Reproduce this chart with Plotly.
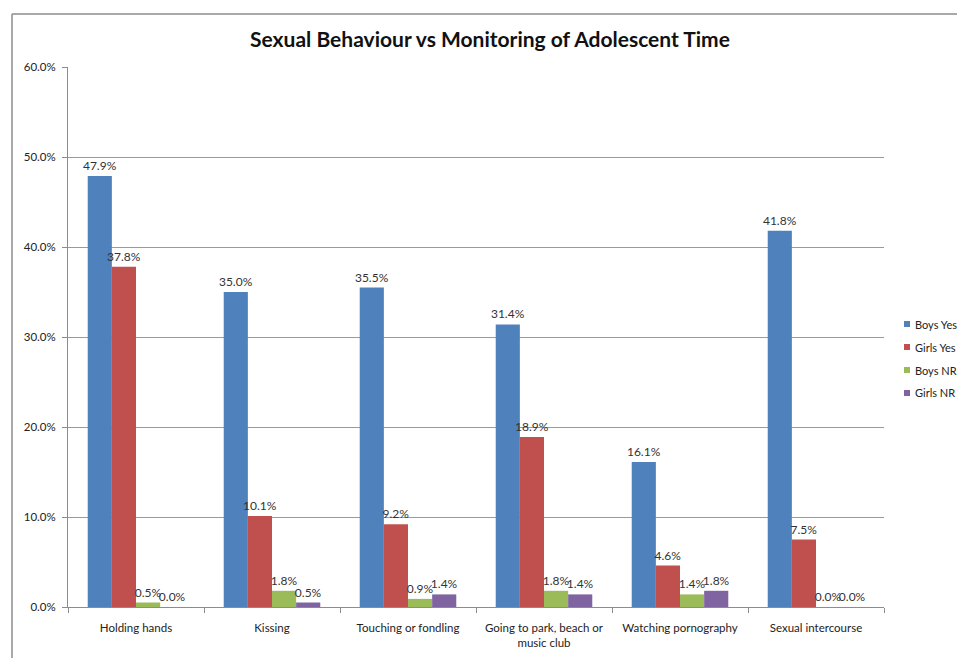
import plotly.graph_objects as go

categories = ["Holding hands", "Kissing", "Touching or fondling",
              "Going to park, beach or<br>music club", "Watching pornography",
              "Sexual intercourse"]
boys_yes = [47.9, 35.0, 35.5, 31.4, 16.1, 41.8]
girls_yes = [37.8, 10.1, 9.2, 18.9, 4.6, 7.5]
boys_nr = [0.5, 1.8, 0.9, 1.8, 1.4, 0.0]
girls_nr = [0.0, 0.5, 1.4, 1.4, 1.8, 0.0]

series = [
    ("Boys Yes", boys_yes, "#4F81BD"),
    ("Girls Yes", girls_yes, "#C0504D"),
    ("Boys NR", boys_nr, "#9BBB59"),
    ("Girls NR", girls_nr, "#8064A2"),
]

FONT = "Lato, 'Open Sans', sans-serif"

fig = go.Figure()
for name, vals, color in series:
    fig.add_trace(go.Bar(
        name=name, x=categories, y=[v / 100 for v in vals],
        marker=dict(color=color, line=dict(width=0)),
        text=[f"{v:.1f}%" for v in vals], textposition="outside",
        textfont=dict(size=12, color="#333333", family=FONT),
        constraintext="none", cliponaxis=False, showlegend=False,
    ))

W, H = 957, 658
L, R, T, B = 68, 884, 67, 607

def px_x(x):
    return (x - L) / (R - L)

def px_y(y):
    return (B - y) / (B - T)

# Compact legend on the right: a small colour square and a label per series
shapes = []
annotations = []
for i, (name, _, color) in enumerate(series):
    yc = 324 + i * 23
    shapes.append(dict(type="rect", xref="paper", yref="paper",
                       x0=px_x(904), x1=px_x(910), y0=px_y(yc + 3), y1=px_y(yc - 3),
                       fillcolor=color, line=dict(width=0)))
    annotations.append(dict(text=name, xref="paper", yref="paper",
                            x=px_x(913), y=px_y(yc), xanchor="left", yanchor="middle",
                            showarrow=False,
                            font=dict(size=11, color="#222222", family=FONT)))

# Chart frame lines (top and left edges)
shapes += [
    dict(type="line", xref="paper", yref="paper",
         x0=px_x(12), x1=px_x(12), y0=px_y(14), y1=px_y(670),
         line=dict(color="#8c8c8c", width=1.5)),
    dict(type="line", xref="paper", yref="paper",
         x0=px_x(12), x1=px_x(970), y0=px_y(14), y1=px_y(14),
         line=dict(color="#8c8c8c", width=1.5)),
]

fig.update_layout(
    width=W, height=H,
    margin=dict(l=L, r=W - R, t=T, b=H - B, autoexpand=False),
    paper_bgcolor="white", plot_bgcolor="white",
    barmode="group", bargap=0.29, bargroupgap=0,
    font=dict(family=FONT, size=11, color="#333333"),
    title=dict(text="<b>Sexual Behaviour vs Monitoring of Adolescent Time</b>",
               x=px_x(490), xref="paper", xanchor="center",
               y=1 - 40 / H, yref="container", yanchor="middle",
               font=dict(size=21, color="#111111", family=FONT)),
    showlegend=False,
    xaxis=dict(showline=True, linecolor="#8c8c8c", linewidth=1,
               ticks="outside", tickson="boundaries", ticklen=5,
               tickcolor="#8c8c8c", showgrid=False, ticklabelstandoff=10,
               tickfont=dict(size=11.5, color="#222222")),
    yaxis=dict(range=[0, 0.6], dtick=0.1, tickformat=".1%",
               showline=True, linecolor="#8c8c8c", linewidth=1,
               ticks="outside", ticklen=5, tickcolor="#8c8c8c",
               showgrid=True, gridcolor="#9a9a9a", gridwidth=1,
               zeroline=False, ticklabelstandoff=4,
               tickfont=dict(size=11.5, color="#222222")),
    shapes=shapes,
    annotations=annotations,
)

fig.write_html("out.html")
